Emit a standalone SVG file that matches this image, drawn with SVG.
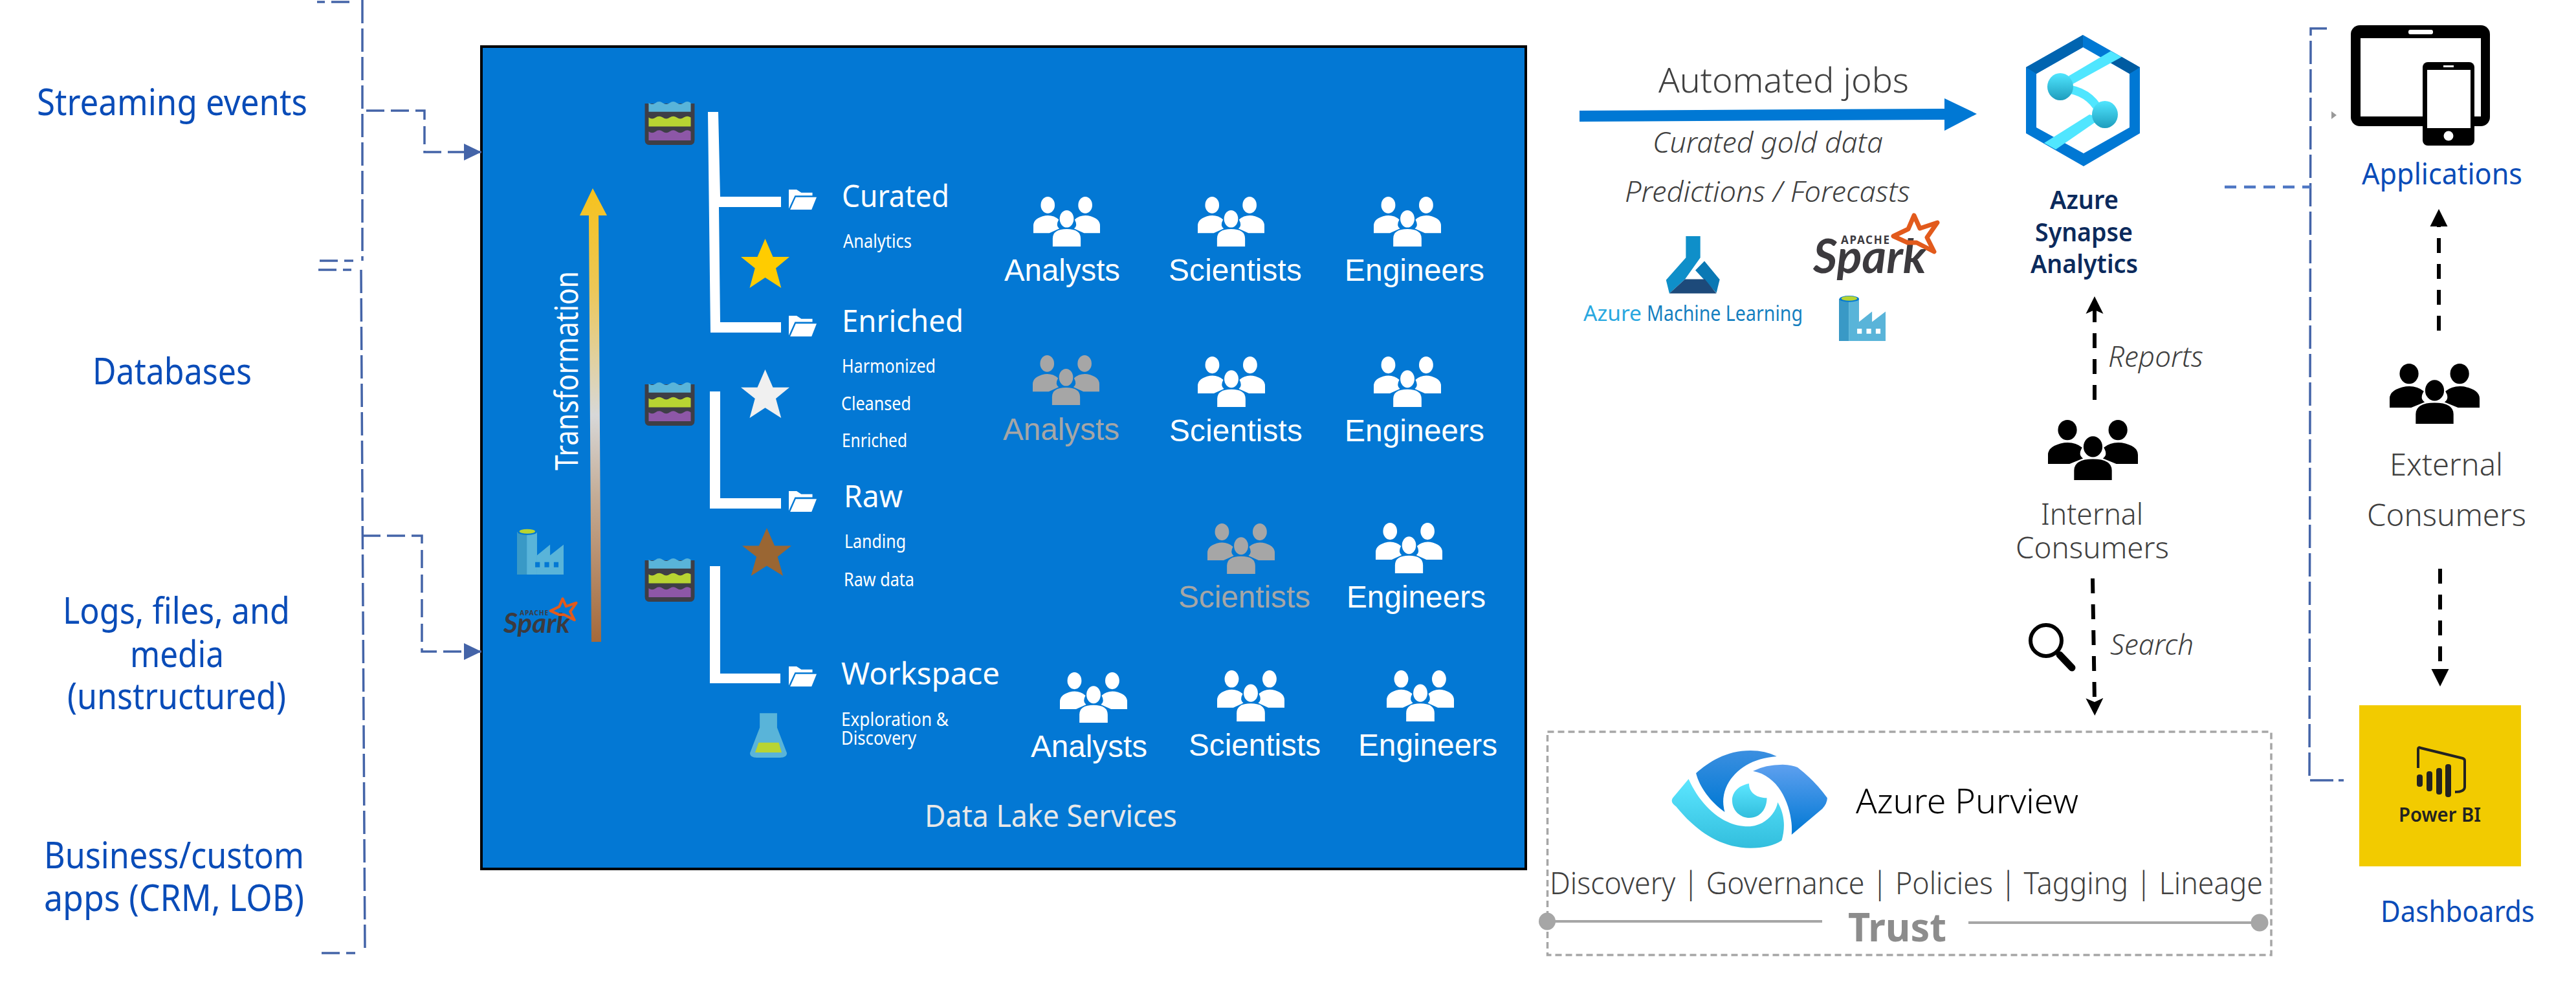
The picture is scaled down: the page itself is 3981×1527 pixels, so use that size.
<svg xmlns="http://www.w3.org/2000/svg" xmlns:xlink="http://www.w3.org/1999/xlink" width="3981" height="1527" viewBox="0 0 3981 1527">
<style>
text{font-family:"Noto Sans","Open Sans","Liberation Sans",sans-serif;font-weight:400}
.src{font-size:57px;fill:#0a4cb8}
.w{fill:#fff}
.h{font-size:48px;fill:#fff}
.sm{font-size:29px;fill:#fff}
.p{font-family:"Liberation Sans",Arial,sans-serif;font-size:48px;fill:#fff}
.pg{font-family:"Liberation Sans",Arial,sans-serif;font-size:48px;fill:#a6a6a6}
.dk{fill:#404040;font-size:46px;font-weight:300}
.it{fill:#404040;font-style:italic;font-size:44px;font-weight:300}
.syn{fill:#0b2a5c;font-size:39px;font-weight:600}
.blue{fill:#0a4cb8;font-size:45px}
.bus{fill:none;stroke:#4464a8;stroke-width:3.5;stroke-dasharray:36 8}
.bush{fill:none;stroke:#4464a8;stroke-width:3.5;stroke-dasharray:28 10}
.blk{fill:none;stroke:#000;stroke-width:6;stroke-dasharray:23 17}
.tree{fill:#fff}
.spk{font-family:"Lato","Open Sans",sans-serif;font-weight:700;font-style:italic;fill:#3c3a3e}
</style>
<defs>
<marker id="triBlue" markerUnits="userSpaceOnUse" markerWidth="28" markerHeight="28" refX="27" refY="14" orient="auto"><path d="M0 1 L27 14 L0 27Z" fill="#4464a8"/></marker>
<marker id="triBlk" markerUnits="userSpaceOnUse" markerWidth="28" markerHeight="28" refX="0" refY="14" orient="auto"><path d="M0 0.5 L27 14 L0 27.5Z" fill="#000"/></marker>
<marker id="stealth" markerUnits="userSpaceOnUse" markerWidth="28" markerHeight="28" refX="6" refY="14" orient="auto"><path d="M0 0.5 L27 14 L0 27.5 L6 14Z" fill="#000"/></marker>
<linearGradient id="gTrans" gradientUnits="userSpaceOnUse" x1="0" y1="291" x2="0" y2="992"><stop offset="0" stop-color="#f6c21c"/><stop offset=".22" stop-color="#ecc757"/><stop offset=".5" stop-color="#d8d8d8"/><stop offset=".68" stop-color="#c4ac96"/><stop offset="1" stop-color="#a5693a"/></linearGradient>
<linearGradient id="gCirc" x1="0" y1="0" x2="0" y2="1"><stop offset="0" stop-color="#50e6ff"/><stop offset="1" stop-color="#1e9dbd"/></linearGradient>
<linearGradient id="gP1" x1="0" y1="0" x2="0" y2="1"><stop offset="0" stop-color="#3b8fe0"/><stop offset="1" stop-color="#0078d4"/></linearGradient>
<linearGradient id="gP2" x1="0" y1="0" x2="0" y2="1"><stop offset="0" stop-color="#5ea0ef"/><stop offset="1" stop-color="#0078d4"/></linearGradient>
<linearGradient id="gP3" x1="0" y1="0" x2="0" y2="1"><stop offset="0" stop-color="#5ce6ff"/><stop offset="1" stop-color="#32bedd"/></linearGradient>
<symbol id="people" viewBox="0 0 100 100" preserveAspectRatio="none">
<ellipse cx="21.6" cy="16.8" rx="10.5" ry="16.8"/><ellipse cx="77.8" cy="16.8" rx="10.5" ry="16.8"/><ellipse cx="50" cy="44.5" rx="10.5" ry="17.3"/>
<path d="M0 73V58Q0 43 18 38Q30 36 38 46Q33 58 39 64L24 73Z"/><path d="M100 73V58Q100 43 82 38Q70 36 62 46Q67 58 61 64L76 73Z"/>
<path d="M29 100V84Q29 65 50 65Q71 65 71 84V100Z"/>
</symbol>
<symbol id="star" viewBox="0 0 100 100" preserveAspectRatio="none"><path d="M50 0L66 37H100L72 60L83 100L50 79L18 100L29 60L0 37H34Z"/></symbol>
<symbol id="folder" viewBox="0 0 100 100" preserveAspectRatio="none"><path fill="#fff" d="M0 95V0H28L45 15H85V30H22Z"/><path fill="#fff" d="M25 38H100L82 100H5Z"/></symbol>
<symbol id="factory" viewBox="0 0 100 100" preserveAspectRatio="none">
<rect x="0" y="7" width="21" height="93" fill="#3999c6"/><rect x="21" y="7" width="22" height="93" fill="#59b4d9"/>
<path d="M43 100V58L71 35V58L100 35V100Z" fill="#59b4d9"/>
<ellipse cx="22" cy="7" rx="21" ry="7" fill="#0078d4"/><ellipse cx="22" cy="6" rx="17" ry="5" fill="#b8d432"/>
<path d="M39 73h10v11h-10zM59 73h10v11h-10zM79 73h10v11h-10z" fill="currentColor"/>
</symbol>
<symbol id="lake" viewBox="0 0 78 71">
<path d="M0 5H78V62Q78 70 70 70H8Q0 70 0 62Z" fill="#3e3e46"/>
<path d="M6 4Q11.500 8 17 4T28 4T39 4T50 4T61 4T72 4V18H6Z" fill="#59b4d9"/>
<path d="M6 27Q11.500 31 17 27T28 27T39 27T50 27T61 27T72 27V41H6Z" fill="#b8d432"/>
<path d="M6 49Q11.500 53 17 49T28 49T39 49T50 49T61 49T72 49V63H6Z" fill="#8d57a7"/>
</symbol>
<symbol id="spark" viewBox="0 0 196 104">
<text class="spk" x="0" y="93" font-size="72" textLength="175" lengthAdjust="spacingAndGlyphs">Spark</text>
<text x="43" y="48" font-size="17" fill="#3c3a3e" textLength="75" style="font-weight:700">APACHE</text>
<path d="M156 4L165 24L192 15L176 38L187 60L160 46L146 46L124 36L147 25Z" fill="#fff" fill-opacity="0" stroke="#e25a1c" stroke-width="7" stroke-linejoin="round"/>
</symbol>
</defs>
<rect width="3981" height="1527" fill="#fff"/>

<g id="data-lake">
<rect x="744" y="72" width="1614" height="1271" fill="#0378d4" stroke="#000" stroke-width="4"/>
<text x="1429" y="1278" font-size="47" fill="#e8e8e8" textLength="390" lengthAdjust="spacingAndGlyphs">Data Lake Services</text>
</g>

<g id="connectors">
<path class="bus" d="M560 0V403"/>
<path class="bush" d="M540 3H490"/>
<path class="bush" d="M494 403H546"/>
<path class="bush" d="M492 417H543"/>
<path class="bus" d="M558 417L564 1466"/>
<path class="bush" d="M497 1473H549"/>
<path class="bush" d="M566 171H656V235H744" marker-end="url(#triBlue)"/>
<path class="bush" d="M560 828H652V1007H744" marker-end="url(#triBlue)"/>
<path class="bus" d="M3596 44H3571L3569 1206H3622"/>
<path d="M3438 289H3571" fill="none" stroke="#4f78c4" stroke-width="4.500" stroke-dasharray="18 12"/>
<path d="M3603 172L3611 178L3603 184Z" fill="#999"/>
<path class="blk" d="M3237 618V479" marker-end="url(#stealth)"/>
<path class="blk" d="M3234 894L3237 1085" marker-end="url(#stealth)"/>
<path class="blk" d="M3769 511V350" marker-end="url(#triBlk)"/>
<path class="blk" d="M3771 879V1034" marker-end="url(#triBlk)"/>
<path d="M2441 171L3005 168V152L3055 176L3005 202V185L2441 188Z" fill="#0078d4"/>
</g>

<g id="src-streaming"><text class="src" x="57" y="178" textLength="418" lengthAdjust="spacingAndGlyphs">Streaming events</text></g>
<g id="src-databases"><text class="src" x="143" y="594" textLength="246" lengthAdjust="spacingAndGlyphs">Databases</text></g>
<g id="src-logs">
<text class="src" x="97" y="964" textLength="351" lengthAdjust="spacingAndGlyphs">Logs, files, and</text>
<text class="src" x="201" y="1031" textLength="145" lengthAdjust="spacingAndGlyphs">media</text>
<text class="src" x="104" y="1096" textLength="338" lengthAdjust="spacingAndGlyphs">(unstructured)</text>
</g>
<g id="src-apps">
<text class="src" x="68" y="1342" textLength="402" lengthAdjust="spacingAndGlyphs">Business/custom</text>
<text class="src" x="68" y="1408" textLength="402" lengthAdjust="spacingAndGlyphs">apps (CRM, LOB)</text>
</g>

<g id="transformation">
<path d="M910 333H896L916 291L938 333H925L929 992H914Z" fill="url(#gTrans)"/>
<text transform="translate(893,727) rotate(-90)" font-size="49" fill="#fff" textLength="308" lengthAdjust="spacingAndGlyphs">Transformation</text>
<use href="#factory" x="799" y="817" width="72" height="71" color="#0378d4"/>
<use href="#spark" x="778" y="923" width="115" height="61"/>
</g>

<g id="tier-tree">
<use href="#lake" x="996" y="155" width="78" height="70"/>
<use href="#lake" x="996" y="589" width="78" height="70"/>
<use href="#lake" x="996" y="861" width="78" height="70"/>
<path class="tree" d="M1094 173H1110L1113 304H1207V320H1111L1113 498H1207V514H1098Z"/>
<path class="tree" d="M1097 605H1113V770H1207V786H1097Z"/>
<path class="tree" d="M1097 875H1113V1041H1206V1056H1097Z"/>
</g>

<g id="curated">
<use href="#folder" x="1219" y="293" width="43" height="31"/>
<text class="h" x="1301" y="320" textLength="166" lengthAdjust="spacingAndGlyphs">Curated</text>
<text class="sm" x="1303" y="383" textLength="106" lengthAdjust="spacingAndGlyphs">Analytics</text>
<use href="#star" x="1145" y="369" width="75" height="76" fill="#ffcc00"/>
</g>
<g id="enriched">
<use href="#folder" x="1219" y="488" width="43" height="32"/>
<text class="h" x="1301" y="513" textLength="188" lengthAdjust="spacingAndGlyphs">Enriched</text>
<text class="sm" x="1301" y="576" textLength="145" lengthAdjust="spacingAndGlyphs">Harmonized</text>
<text class="sm" x="1300" y="634" textLength="108" lengthAdjust="spacingAndGlyphs">Cleansed</text>
<text class="sm" x="1301" y="691" textLength="101" lengthAdjust="spacingAndGlyphs">Enriched</text>
<use href="#star" x="1145" y="571" width="75" height="75" fill="#f0f0f0"/>
</g>
<g id="raw">
<use href="#folder" x="1219" y="759" width="43" height="32"/>
<text class="h" x="1304" y="784" textLength="91" lengthAdjust="spacingAndGlyphs">Raw</text>
<text class="sm" x="1305" y="847" textLength="95" lengthAdjust="spacingAndGlyphs">Landing</text>
<text class="sm" x="1304" y="906" textLength="109" lengthAdjust="spacingAndGlyphs">Raw data</text>
<use href="#star" x="1147" y="816" width="76" height="74" fill="#9a6633"/>
</g>
<g id="workspace">
<use href="#folder" x="1219" y="1030" width="43" height="31"/>
<text class="h" x="1300" y="1058" textLength="245" lengthAdjust="spacingAndGlyphs">Workspace</text>
<text class="sm" x="1300" y="1122" textLength="166" lengthAdjust="spacingAndGlyphs">Exploration &amp;</text>
<text class="sm" x="1300" y="1151" textLength="116" lengthAdjust="spacingAndGlyphs">Discovery</text>
<g transform="translate(1000,800) scale(.893,.4636)">
<path d="M195 652H225V700L242 785Q242 800 230 800H190Q178 800 178 785L195 700Z" fill="#59b4d9"/>
<path d="M193 750H228L233 783H187Z" fill="#b8d432"/>
</g>
</g>

<g id="users-row1" fill="#fff">
<use href="#people" x="1597" y="304" width="103" height="77"/>
<use href="#people" x="1851" y="304" width="103" height="77"/>
<use href="#people" x="2123" y="304" width="104" height="77"/>
<text class="p" x="1552" y="434" textLength="179" lengthAdjust="spacingAndGlyphs">Analysts</text>
<text class="p" x="1806" y="434" textLength="206" lengthAdjust="spacingAndGlyphs">Scientists</text>
<text class="p" x="2078" y="434" textLength="216" lengthAdjust="spacingAndGlyphs">Engineers</text>
</g>
<g id="users-row2">
<use href="#people" x="1596" y="549" width="103" height="77" fill="#a6a6a6"/>
<use href="#people" x="1851" y="551" width="104" height="78" fill="#fff"/>
<use href="#people" x="2123" y="551" width="104" height="78" fill="#fff"/>
<text class="pg" x="1550" y="680" textLength="180" lengthAdjust="spacingAndGlyphs">Analysts</text>
<text class="p" x="1807" y="682" textLength="206" lengthAdjust="spacingAndGlyphs">Scientists</text>
<text class="p" x="2078" y="682" textLength="216" lengthAdjust="spacingAndGlyphs">Engineers</text>
</g>
<g id="users-row3">
<use href="#people" x="1866" y="809" width="104" height="78" fill="#a6a6a6"/>
<use href="#people" x="2126" y="808" width="103" height="78" fill="#fff"/>
<text class="pg" x="1821" y="939" textLength="204" lengthAdjust="spacingAndGlyphs">Scientists</text>
<text class="p" x="2081" y="939" textLength="215" lengthAdjust="spacingAndGlyphs">Engineers</text>
</g>
<g id="users-row4" fill="#fff">
<use href="#people" x="1638" y="1039" width="104" height="78"/>
<use href="#people" x="1881" y="1036" width="104" height="79"/>
<use href="#people" x="2143" y="1036" width="104" height="79"/>
<text class="p" x="1593" y="1170" textLength="180" lengthAdjust="spacingAndGlyphs">Analysts</text>
<text class="p" x="1837" y="1168" textLength="204" lengthAdjust="spacingAndGlyphs">Scientists</text>
<text class="p" x="2099" y="1168" textLength="215" lengthAdjust="spacingAndGlyphs">Engineers</text>
</g>

<g id="automated-jobs">
<text x="2563" y="143" font-size="53" fill="#404040" textLength="387" lengthAdjust="spacingAndGlyphs" style="font-weight:300">Automated jobs</text>
<text class="it" x="2554" y="236" textLength="356" lengthAdjust="spacingAndGlyphs">Curated gold data</text>
<text class="it" x="2511" y="312" textLength="441" lengthAdjust="spacingAndGlyphs">Predictions / Forecasts</text>
</g>
<g id="azure-ml">
<g transform="translate(2400,0) scale(.6378,.3571)">
<path d="M322 1022H357V1115L320 1208L282 1270L274 1212L322 1115Z" fill="#0f8fc9"/>
<path d="M367 1130L404 1210L396 1268L345 1170Z" fill="#0a78b4"/>
<path d="M320 1208H368L396 1270H282Z" fill="#1d4a7a"/>
</g>
<text x="2447" y="496" font-size="33" fill="#29a8e0" textLength="90" lengthAdjust="spacingAndGlyphs">Azure</text>
<text x="2545" y="496" font-size="33" fill="#1580c0" textLength="241" lengthAdjust="spacingAndGlyphs">Machine Learning</text>
</g>
<g id="spark-tools">
<use href="#spark" x="2802" y="329" width="196" height="104"/>
<use href="#factory" x="2842" y="457" width="72" height="70" color="#fff"/>
</g>

<g id="synapse">
<path fill-rule="evenodd" d="M3219 54L3307 104V206L3220 257L3131 206V104ZM3219 73L3147 114V197L3220 237L3291 197V114Z" fill="#0078d4"/>
<path d="M3219 54V73L3147 114L3131 104Z" fill="#0064b0"/>
<path d="M3279 88L3307 104L3291 114L3262 97Z" fill="#005ba1"/>
<path d="M3262 79L3279 88L3203 130L3191 121Z" fill="#50e6ff"/>
<path d="M3159 221L3177 231L3248 182L3229 177Z" fill="#50e6ff"/>
<path d="M3190 137Q3228 140 3245 172" fill="none" stroke="#50e6ff" stroke-width="13"/>
<ellipse cx="3184" cy="134" rx="20" ry="21" fill="url(#gCirc)"/>
<ellipse cx="3253" cy="177" rx="20" ry="21" fill="url(#gCirc)"/>
<text class="syn" x="3168" y="323" textLength="106" lengthAdjust="spacingAndGlyphs">Azure</text>
<text class="syn" x="3145" y="373" textLength="151" lengthAdjust="spacingAndGlyphs">Synapse</text>
<text class="syn" x="3138" y="422" textLength="166" lengthAdjust="spacingAndGlyphs">Analytics</text>
</g>

<g id="internal-consumers">
<use href="#people" x="3165" y="649" width="139" height="93" fill="#000"/>
<text class="dk" x="3154" y="811" textLength="158" lengthAdjust="spacingAndGlyphs">Internal</text>
<text class="dk" x="3115" y="863" textLength="237" lengthAdjust="spacingAndGlyphs">Consumers</text>
<text class="it" x="3258" y="567" textLength="147" lengthAdjust="spacingAndGlyphs">Reports</text>
<circle cx="3162" cy="990" r="24" fill="none" stroke="#000" stroke-width="6"/>
<path d="M3183 1012L3202 1032" stroke="#000" stroke-width="11" stroke-linecap="round"/>
<text class="it" x="3261" y="1012" textLength="129" lengthAdjust="spacingAndGlyphs">Search</text>
</g>

<g id="purview">
<rect x="2391.500" y="1131" width="1118.500" height="345" fill="none" stroke="#a6a6a6" stroke-width="3.500" stroke-dasharray="10 6"/>
<g transform="translate(2380,1100) scale(.7653,.3333)">
<path d="M315 285C340 235 375 180 425 180Q455 180 478 207C430 215 395 265 378 340Q365 400 373 465C345 420 322 350 315 285Z" fill="url(#gP1)"/>
<path d="M300 312L268 400Q262 420 275 440C300 510 350 632 425 632Q465 632 488 597C495 540 495 480 480 420C475 480 450 532 420 532C370 532 325 440 300 312Z" fill="url(#gP3)"/>
<path d="M430 275Q455 245 490 245Q510 247 520 258Q555 320 580 400Q580 425 570 450L508 570C512 470 490 300 430 275Z" fill="url(#gP2)"/>
<path d="M422 333C395 345 388 385 388 410C388 460 405 492 423 492C445 492 458 450 458 400C440 400 422 380 422 333Z" fill="url(#gP3)"/>
</g>
<text x="2868" y="1257" font-size="53" fill="#000" textLength="344" lengthAdjust="spacingAndGlyphs" style="font-weight:300">Azure Purview</text>
<text x="2395" y="1382" font-size="47" fill="#404040" textLength="1102" lengthAdjust="spacingAndGlyphs" style="font-weight:300">Discovery | Governance | Policies | Tagging | Lineage</text>
<path d="M2403 1424H2816M3042 1426H3482" stroke="#a6a6a6" stroke-width="4" fill="none"/>
<ellipse cx="2391" cy="1424" rx="13" ry="13.500" fill="#a6a6a6"/>
<circle cx="3492" cy="1426" r="13.500" fill="#a6a6a6"/>
<text x="2856" y="1455" font-size="61" fill="#8c8c8c" textLength="152" lengthAdjust="spacingAndGlyphs" style="font-weight:700">Trust</text>
</g>

<g id="applications">
<rect x="3633" y="39" width="215" height="156" rx="14" fill="#000"/>
<rect x="3648" y="59" width="186" height="121" fill="#fff"/>
<rect x="3722" y="46" width="38" height="7" rx="3" fill="#fff"/>
<rect x="3744" y="96" width="80" height="129" rx="8" fill="#000"/>
<rect x="3751" y="108" width="67" height="90" fill="#fff"/>
<rect x="3776" y="101" width="16" height="3" fill="#fff"/>
<circle cx="3784" cy="210" r="7.500" fill="#fff"/>
<text class="blue" x="3650" y="285" textLength="248" lengthAdjust="spacingAndGlyphs">Applications</text>
</g>

<g id="external-consumers">
<use href="#people" x="3693" y="562" width="139" height="93" fill="#000"/>
<text class="dk" x="3693" y="735" textLength="175" style="font-size:48px" lengthAdjust="spacingAndGlyphs">External</text>
<text class="dk" x="3658" y="813" textLength="246" style="font-size:48px" lengthAdjust="spacingAndGlyphs">Consumers</text>
</g>

<g id="power-bi">
<rect x="3646" y="1090" width="250" height="249" fill="#f2cb00"/>
<path d="M3737 1187V1158Q3737 1154 3741 1156L3806 1172Q3809 1173 3809 1176V1216Q3809 1224 3794 1224" fill="none" stroke="#222" stroke-width="4"/>
<g fill="#222"><rect x="3735" y="1197" width="9" height="19" rx="4"/><rect x="3750" y="1192" width="9" height="31" rx="4"/><rect x="3765" y="1187" width="9" height="41" rx="4"/><rect x="3779" y="1181" width="9" height="51" rx="4"/></g>
<text x="3707" y="1270" font-size="30" fill="#222" textLength="127" lengthAdjust="spacingAndGlyphs" style="font-weight:600">Power BI</text>
<text class="blue" x="3679" y="1425" textLength="238" lengthAdjust="spacingAndGlyphs">Dashboards</text>
</g>
</svg>
